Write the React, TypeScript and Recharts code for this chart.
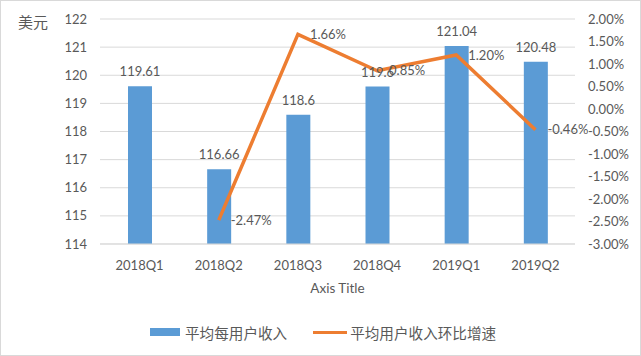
import { ComposedChart, Bar, Line, XAxis, YAxis, CartesianGrid, LabelList } from 'recharts';

const categories = ['2018Q1', '2018Q2', '2018Q3', '2018Q4', '2019Q1', '2019Q2'];
const arpu = [119.61, 116.66, 118.6, 119.6, 121.04, 120.48];
const growth = [null, -0.0247, 0.0166, 0.0085, 0.012, -0.0046];
const leftTicks = [114, 115, 116, 117, 118, 119, 120, 121, 122];
const rightTicks = [-0.03, -0.025, -0.02, -0.015, -0.01, -0.005, 0, 0.005, 0.01, 0.015, 0.02];

const TEXT = '#595959';
const BLUE = '#5b9bd5';
const ORANGE = '#ed7d31';
const GRID = '#d9d9d9';
const LATIN = 'Lato, "Noto Sans CJK SC", sans-serif';
const CJK = '"Noto Sans CJK SC", sans-serif';

const pct = (v: number) => (v * 100).toFixed(2) + '%';

export default function App() {
  const data = categories.map((q, i) => ({ q, arpu: arpu[i], growth: growth[i] }));

  return (
    <div style={{ position: 'absolute', left: 0, top: 0, width: 641, height: 356, background: '#fff', fontFamily: LATIN }}>
      <ComposedChart width={641} height={356} data={data} margin={{ top: 19, right: 0, left: 0, bottom: 52 }}>
        <CartesianGrid vertical={false} stroke={GRID} yAxisId="left" />
        <XAxis
          dataKey="q"
          stroke={GRID}
          tickLine={false}
          tickMargin={11}
          height={60}
          tick={{ fill: TEXT, fontSize: 13, fontFamily: LATIN }}
          label={{ value: 'Axis Title', position: 'insideBottom', offset: 11, fill: TEXT, fontSize: 13.5, fontFamily: LATIN }}
        />
        <YAxis
          yAxisId="left"
          width={100}
          domain={[114, 122]}
          ticks={leftTicks}
          axisLine={false}
          tickLine={false}
          tickMargin={7}
          tick={{ fill: TEXT, fontSize: 13, fontFamily: LATIN }}
        />
        <YAxis
          yAxisId="right"
          orientation="right"
          width={66}
          domain={[-0.03, 0.02]}
          ticks={rightTicks}
          tickFormatter={pct}
          axisLine={false}
          tickLine={false}
          tickMargin={7}
          tick={{ fill: TEXT, fontSize: 13, fontFamily: LATIN, textAnchor: 'start' }}
        />
        <Bar yAxisId="left" dataKey="arpu" fill={BLUE} barSize={24} isAnimationActive={false}>
          <LabelList dataKey="arpu" position="top" offset={10} fill={TEXT} fontSize={13} fontFamily={LATIN} />
        </Bar>
        <Line
          yAxisId="right"
          type="linear"
          dataKey="growth"
          stroke={ORANGE}
          strokeWidth={3.5}
          dot={false}
          activeDot={false}
          isAnimationActive={false}
        >
          <LabelList
            dataKey="growth"
            position="right"
            offset={12}
            fill={TEXT}
            fontSize={13}
            fontFamily={LATIN}
            formatter={(v: any) => (v == null ? '' : pct(v))}
          />
        </Line>
      </ComposedChart>

      <div style={{ position: 'absolute', left: 18, top: 12, fontFamily: CJK, fontSize: 15, color: TEXT, lineHeight: '20px' }}>美元</div>

      <div style={{ position: 'absolute', left: 150, top: 322, height: 20, display: 'flex', alignItems: 'center', fontFamily: CJK, fontSize: 14.6, color: TEXT, whiteSpace: 'nowrap' }}>
        <span style={{ display: 'inline-block', width: 30, height: 8, background: BLUE, marginRight: 5 }} />
        <span>平均每用户收入</span>
        <span style={{ display: 'inline-block', width: 34, height: 3, background: ORANGE, marginLeft: 26, marginRight: 3 }} />
        <span>平均用户收入环比增速</span>
      </div>

      <div style={{ position: 'absolute', left: 0, top: 0, width: 641, height: 356, boxSizing: 'border-box', border: `1px solid ${GRID}`, pointerEvents: 'none' }} />
    </div>
  );
}
